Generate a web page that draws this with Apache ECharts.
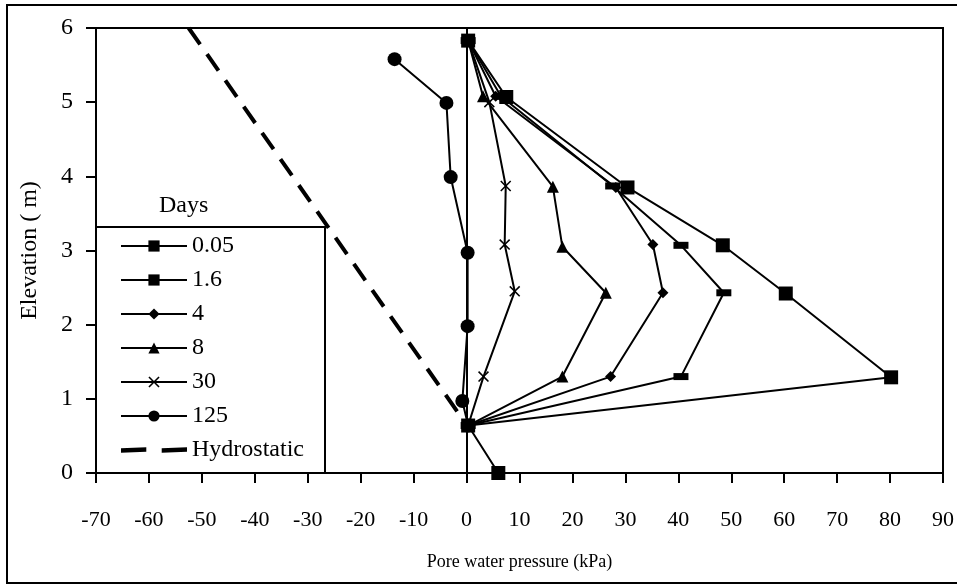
<!DOCTYPE html>
<html>
<head>
<meta charset="utf-8">
<script src="https://cdn.jsdelivr.net/npm/echarts@6/dist/echarts.min.js"></script>
<style>
  html, body { margin: 0; padding: 0; background: #fff; }
  #chart { width: 957px; height: 586px; }
</style>
</head>
<body>
<div id="chart"></div>
<script>
    // pore water pressure (kPa), elevation (m)
    var days = ['0.05', '1.6', '4', '8', '30', '125', 'Hydrostatic']

    var d005 = [[0.3, 5.83], [7.5, 5.07], [30.4, 3.85], [48.4, 3.07], [60.3, 2.42], [80.2, 1.29], [0.3, 0.64], [6, 0]]
    var d16 = [[0.3, 5.83], [6.5, 5.08], [27.6, 3.87], [40.5, 3.07], [48.6, 2.43], [40.5, 1.3], [0.3, 0.64]]
    var d4 = [[0.3, 5.83], [5.5, 5.08], [28.2, 3.85], [35.2, 3.08], [37.1, 2.43], [27.2, 1.3], [0.3, 0.64]]
    var d8 = [[0.3, 5.83], [3.1, 5.08], [16.3, 3.86], [18.1, 3.05], [26.3, 2.43], [18.1, 1.3], [0.3, 0.64]]
    var d30 = [[0.3, 5.83], [4.3, 5.0], [7.4, 3.87], [7.2, 3.08], [9.1, 2.45], [3.2, 1.3], [0.3, 0.64]]
    var d125 = [[-13.6, 5.58], [-3.8, 4.99], [-3.0, 3.99], [0.2, 2.97], [0.2, 1.98], [-0.8, 0.97], [0.3, 0.64]]
    var hydro = [[-52.5, 6], [0, 0.65]]

    var xMin = -70, xMax = 90, xStep = 10
    var yMin = 0, yMax = 6, yStep = 1

    var font = 'Liberation Serif'
    var cross = 'path://M0,1L1,0L5,4L9,0L10,1L6,5L10,9L9,10L5,6L1,10L0,9L4,5Z'
    // two short thick dashes for the hydrostatic legend entry
    var dashIcon = 'path://M0,1L23,0L23,4L0,5Z M37,1L60,0L60,4L37,5Z'

    function line(name, data, symbol, size) {
        return {
            name: name,
            type: 'line',
            data: data,
            symbol: symbol,
            symbolSize: size,
            showSymbol: true,
            itemStyle: { color: '#000' },
            lineStyle: { color: '#000', width: 2 },
            z: 3
        }
    }

    var legendData = days.map(function (d) {
        return d === 'Hydrostatic' ? { name: d, icon: dashIcon } : { name: d }
    })

    var chart = echarts.init(document.getElementById('chart'))

    chart.setOption({
        animation: false,
        textStyle: { fontFamily: font, color: '#000' },
        title: {
            text: 'Days',
            left: 154,
            top: 189,
            textStyle: { fontFamily: font, fontSize: 24, fontWeight: 'normal', color: '#000' }
        },
        graphic: [
            {
                type: 'rect',
                shape: { x: 7, y: 5, width: 960, height: 578 },
                style: { fill: 'none', stroke: '#000', lineWidth: 2 },
                z: 1
            },
            {
                type: 'rect',
                shape: { x: 96, y: 227, width: 229, height: 246 },
                style: { fill: '#fff', stroke: '#000', lineWidth: 2 },
                z: 10
            }
        ],
        legend: {
            data: legendData,
            orient: 'vertical',
            left: 115,
            top: 229,
            itemWidth: 66,
            itemHeight: 14,
            itemGap: 10,
            z: 11,
            textStyle: { fontFamily: font, fontSize: 24, color: '#000' }
        },
        grid: {
            left: 96,
            right: 13,
            top: 28,
            bottom: 113,
            show: true,
            borderColor: '#000',
            borderWidth: 2
        },
        xAxis: {
            type: 'value',
            min: xMin,
            max: xMax,
            interval: xStep,
            name: 'Pore water pressure (kPa)',
            nameLocation: 'middle',
            nameGap: 80,
            nameTextStyle: { fontFamily: font, fontSize: 18, color: '#000' },
            axisLine: { onZero: false, lineStyle: { color: '#000', width: 2 } },
            axisTick: { length: 10, lineStyle: { color: '#000', width: 2 } },
            axisLabel: { margin: 36, fontFamily: font, fontSize: 22, color: '#000' },
            splitLine: { show: false }
        },
        yAxis: {
            type: 'value',
            min: yMin,
            max: yMax,
            interval: yStep,
            name: 'Elevation ( m)',
            nameLocation: 'middle',
            nameGap: 54,
            nameTextStyle: { fontFamily: font, fontSize: 24, color: '#000' },
            axisLine: { onZero: false, lineStyle: { color: '#000', width: 2 } },
            axisTick: { length: 10, lineStyle: { color: '#000', width: 2 } },
            axisLabel: { margin: 23, fontFamily: font, fontSize: 24, color: '#000' },
            splitLine: { show: false }
        },
        series: [
            line('0.05', d005, 'rect', 14),
            line('1.6', d16, 'rect', [15, 7]),
            line('4', d4, 'diamond', 11),
            line('8', d8, 'triangle', 12),
            line('30', d30, cross, 11),
            line('125', d125, 'circle', 14),
            {
                name: 'Hydrostatic',
                type: 'line',
                data: hydro,
                symbol: 'none',
                itemStyle: { color: '#000' },
                lineStyle: { color: '#000', width: 4, type: [20, 12] },
                z: 2,
                markLine: {
                    silent: true,
                    symbol: 'none',
                    label: { show: false },
                    lineStyle: { color: '#000', width: 2, type: 'solid' },
                    data: [{ xAxis: 0 }]
                }
            }
        ]
    })
</script>
</body>
</html>
